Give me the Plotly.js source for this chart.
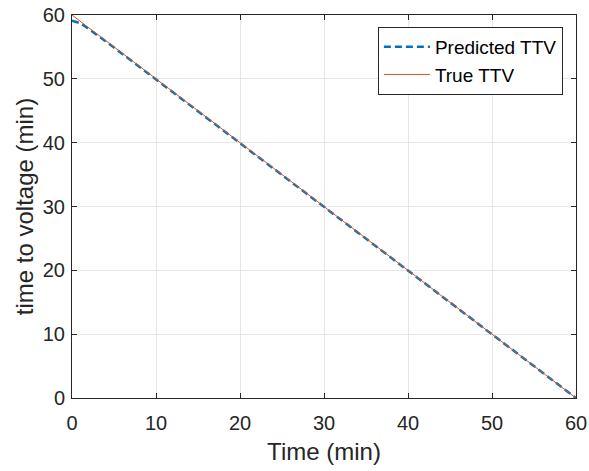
<!DOCTYPE html>
<html>
<head>
<meta charset="utf-8">
<script src="https://cdn.plot.ly/plotly-3.0.1.min.js"></script>
<style>html,body{margin:0;padding:0;background:#fff;}#chart{width:589px;height:471px;}</style>
</head>
<body>
<div id="chart"></div>
<script>
const timeMin = [0,1,2,3,4,5,6,7,8,9,10,11,12,13,14,15,16,17,18,19,20,21,22,23,24,25,26,27,28,29,30,31,32,33,34,35,36,37,38,39,40,41,42,43,44,45,46,47,48,49,50,51,52,53,54,55,56,57,58,59,60];
const predictedTTV = [59.1,58.7,57.8,56.9,55.9,54.9,53.9,52.9,51.9,50.9,49.9,48.9,47.9,46.9,45.9,44.9,43.9,42.9,41.9,40.9,39.9,38.9,37.9,36.9,35.9,34.9,33.9,32.9,31.9,30.9,29.9,28.9,27.9,26.9,25.9,24.9,23.9,22.9,21.9,20.9,19.9,18.9,17.9,16.9,15.9,14.9,13.9,12.9,11.9,10.9,9.9,8.9,7.9,6.9,5.9,4.9,3.9,2.9,1.9,0.9,0.0];
const trueTTV = [60,59,58,57,56,55,54,53,52,51,50,49,48,47,46,45,44,43,42,41,40,39,38,37,36,35,34,33,32,31,30,29,28,27,26,25,24,23,22,21,20,19,18,17,16,15,14,13,12,11,10,9,8,7,6,5,4,3,2,1,0];
const tickVals = [0,10,20,30,40,50,60];
const tickText = ['0','10','20','30','40','50','60'];

const FONT = 'Liberation Sans, Arial, sans-serif';
const traces = [
  {x: timeMin, y: predictedTTV, mode: 'lines', name: 'Predicted TTV',
   line: {color: '#0072BD', width: 2.5, dash: '7px,4px'}},
  {x: timeMin, y: trueTTV, mode: 'lines', name: 'True TTV',
   line: {color: '#D95319', width: 1}}
];
const axisCommon = {
  showline: true, linecolor: '#262626', linewidth: 1, mirror: 'ticks',
  ticks: 'inside', ticklen: 5, tickcolor: '#262626',
  showgrid: true, gridcolor: '#e6e6e6', gridwidth: 1, zeroline: false,
  tickfont: {family: FONT, size: 20, color: '#262626'},
  tickvals: tickVals, ticktext: tickText
};
const layout = {
  width: 589, height: 471,
  margin: {l: 72, r: 13, t: 15, b: 73},
  paper_bgcolor: '#fff', plot_bgcolor: '#fff',
  showlegend: true,
  xaxis: Object.assign({}, axisCommon, {range: [0, 60], ticklabelstandoff: 7,
    title: {text: 'Time (min)', font: {family: FONT, size: 24, color: '#262626'}, standoff: 10}}),
  yaxis: Object.assign({}, axisCommon, {range: [0, 60], ticklabelstandoff: 2,
    title: {text: 'time to voltage (min)', font: {family: FONT, size: 24, color: '#262626'}, standoff: 2}}),
  legend: {x: 0.974, y: 0.969, xanchor: 'right', yanchor: 'top',
    bgcolor: '#fff', bordercolor: '#262626', borderwidth: 1,
    font: {family: FONT, size: 19, color: '#000'},
    tracegroupgap: 0, itemwidth: 46}
};
Plotly.newPlot('chart', traces, layout, {displayModeBar: false, staticPlot: true});
</script>
</body>
</html>
